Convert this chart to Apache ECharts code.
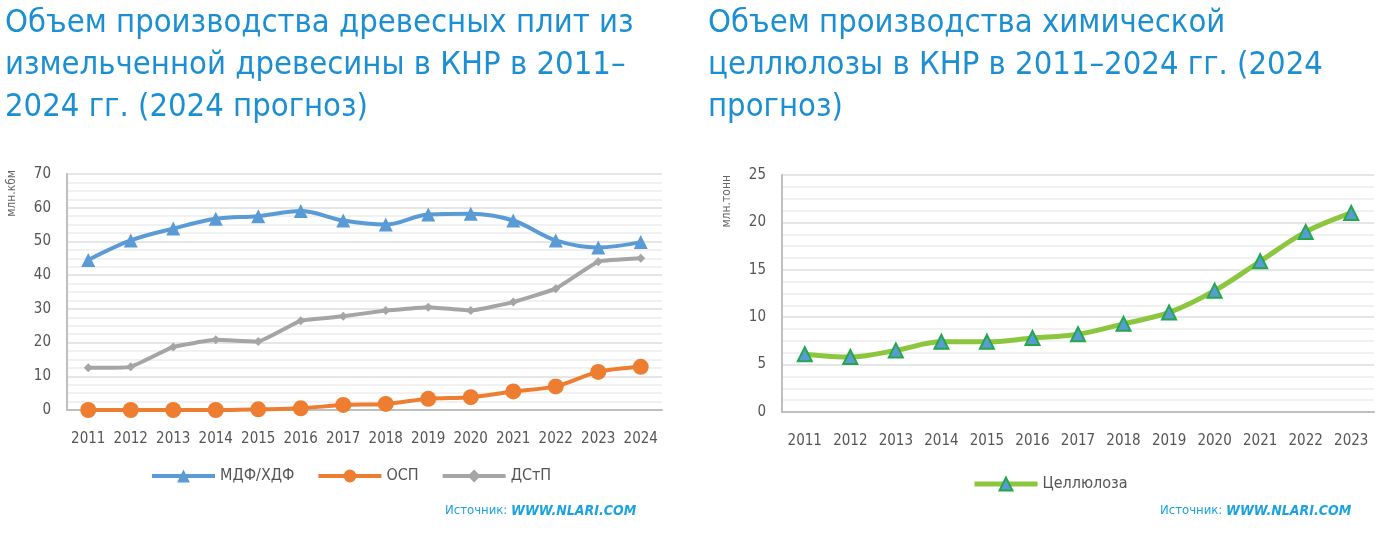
<!DOCTYPE html>
<html><head><meta charset="utf-8">
<script src="https://cdn.jsdelivr.net/npm/echarts@6/dist/echarts.min.js"></script>
<style>html,body{margin:0;padding:0;background:#fff}#c{width:1376px;height:533px}</style>
</head><body><div id="c"></div>
<script>
const yearsL = ['2011','2012','2013','2014','2015','2016','2017','2018','2019','2020','2021','2022','2023','2024'];
const mdf = [44.5,50.3,53.8,56.7,57.5,59.0,56.2,55.0,58.0,58.2,56.2,50.3,48.2,49.8];
const osp = [0,0,0,0,0.2,0.5,1.5,1.8,3.3,3.8,5.5,7.0,11.3,12.8];
const dstp = [12.5,12.8,18.7,20.8,20.3,26.5,27.8,29.5,30.5,29.5,32.0,36.0,44.0,45.0];
const yearsR = ['2011','2012','2013','2014','2015','2016','2017','2018','2019','2020','2021','2022','2023'];
const cell = [6.1,5.8,6.5,7.4,7.4,7.8,8.2,9.3,10.5,12.8,15.9,19.0,21.0];
const titleL = 'Объем производства древесных плит из\nизмельченной древесины в КНР в 2011–\n2024 гг. (2024 прогноз)';
const titleR = 'Объем производства химической\nцеллюлозы в КНР в 2011–2024 гг. (2024\nпрогноз)';

const NARROW = "'DejaVu Sans Condensed',sans-serif";
const chart = echarts.init(document.getElementById('c'));
const axisLbl = {color:'#555', fontFamily:NARROW, fontSize:15};
function yAx(idx, max, interval){
  return {type:'value', gridIndex:idx, min:0, max:max, interval:interval,
    axisLine:{show:true, lineStyle:{color:'#bfbfbf', width:2}},
    axisTick:{show:false}, axisLabel:Object.assign({margin:16}, axisLbl),
    splitLine:{show:true, lineStyle:{color:'#e6e6e6', width:2}},
    minorTick:{show:false, splitNumber:4},
    minorSplitLine:{show:true, lineStyle:{color:'#f1f1f1', width:2}}};
}
function xAx(idx, data){
  return {type:'category', gridIndex:idx, data:data, boundaryGap:true,
    axisLine:{show:true, lineStyle:{color:'#bfbfbf', width:2}},
    axisTick:{show:false}, axisLabel:Object.assign({margin:22, interval:0}, axisLbl)};
}
const titleStyle = {color:'#1b8fd2', fontFamily:NARROW, fontWeight:'normal', fontSize:32.5, lineHeight:42};
const srcRich = {a:{fill:'#1aa3e0', font:"13px "+NARROW}, b:{fill:'#1aa3e0', font:"italic bold 14px "+NARROW}};
chart.setOption({
  animation:false,
  title:[
    {text:titleL, left:0, top:-2, textStyle:titleStyle},
    {text:titleR, left:703, top:-2, textStyle:titleStyle}
  ],
  grid:[
    {left:67, top:174, width:595, height:236},
    {left:782, top:175, width:592, height:237}
  ],
  xAxis:[xAx(0, yearsL), xAx(1, yearsR)],
  yAxis:[yAx(0,70,10), yAx(1,25,5)],
  legend:[
    {data:['МДФ/ХДФ','ОСП','ДСтП'], left:145, top:463, itemWidth:63, itemHeight:16, itemGap:22,
     lineStyle:{width:4}, textStyle:{color:'#555', fontFamily:NARROW, fontSize:16}},
    {data:['Целлюлоза'], left:967, top:471, itemWidth:63, itemHeight:16,
     lineStyle:{width:5}, textStyle:{color:'#555', fontFamily:NARROW, fontSize:16}}
  ],
  graphic:[
    {type:'text', left:6, top:170, rotation:Math.PI/2, style:{text:'млн.кбм', fill:'#666', font:"12px "+NARROW}},
    {type:'text', left:721, top:175, rotation:Math.PI/2, style:{text:'млн.тонн', fill:'#666', font:"12px "+NARROW}},
    {type:'text', left:445, top:504, style:{rich:srcRich, text:'{a|Источник: }{b|WWW.NLARI.COM}'}},
    {type:'text', left:1160, top:504, style:{rich:srcRich, text:'{a|Источник: }{b|WWW.NLARI.COM}'}}
  ],
  series:[
    {name:'МДФ/ХДФ', type:'line', xAxisIndex:0, yAxisIndex:0, data:mdf, smooth:0.35,
     symbol:'triangle', symbolSize:14, lineStyle:{width:4, color:'#5b9bd5'}, itemStyle:{color:'#5b9bd5'}},
    {name:'ОСП', type:'line', xAxisIndex:0, yAxisIndex:0, data:osp, smooth:0.3,
     symbol:'circle', symbolSize:16, lineStyle:{width:4, color:'#ed7d31'}, itemStyle:{color:'#ed7d31'}},
    {name:'ДСтП', type:'line', xAxisIndex:0, yAxisIndex:0, data:dstp, smooth:0.1,
     symbol:'diamond', symbolSize:9, lineStyle:{width:4, color:'#a5a5a5'}, itemStyle:{color:'#a5a5a5'}},
    {name:'Целлюлоза', type:'line', xAxisIndex:1, yAxisIndex:1, data:cell, smooth:0.35,
     symbol:'triangle', symbolSize:14, lineStyle:{width:5, color:'#8cc63f'}, itemStyle:{color:'#5b9bd5', borderColor:'#22a84a', borderWidth:2}}
  ]
});
</script></body></html>
